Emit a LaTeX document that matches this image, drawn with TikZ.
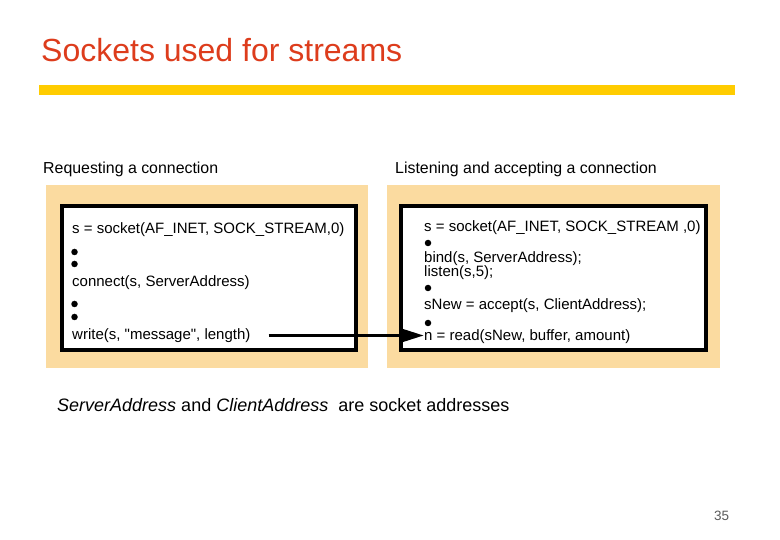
\documentclass[tikz,border=0pt]{standalone}
\usepackage{fontspec}
\setmainfont{Liberation Sans}
\usetikzlibrary{arrows.meta}
\definecolor{titlered}{RGB}{221,60,28}
\definecolor{baryellow}{RGB}{255,204,0}
\definecolor{tan}{RGB}{251,219,160}
\definecolor{pagegray}{RGB}{90,90,90}
\tikzset{
  code/.style={anchor=base west,inner sep=0pt,font=\fontsize{15}{16}\selectfont},
  lbl/.style={anchor=base west,inner sep=0pt,font=\fontsize{15.9}{18}\selectfont},
  dot/.style={circle,fill=black,inner sep=0pt,minimum size=6.5pt},
  panel/.style={fill=tan,draw=none},
  codebox/.style={fill=white,draw=black,line width=4pt},
  msg/.style={line width=3.5pt,-{Triangle[length=21pt,width=12pt]}},
}
\begin{document}
\begin{tikzpicture}[x=1pt,y=-1pt]
\useasboundingbox[fill=white] (0,0) rectangle (780,540);
% title and bar
\node[anchor=base west,inner sep=0pt,text=titlered,font=\fontsize{32}{36}\selectfont] (title) at (41,62) {Sockets used for streams};
\fill[baryellow] (39,85) rectangle (735,95);
% labels
\node[lbl] (lreq) at (43,174) {Requesting a connection};
\node[lbl] (llis) at (395,174) {Listening and accepting a connection};
% panels
\fill[panel] (46,185) rectangle (368,368);
\draw[codebox] (62,206) rectangle (356,350);
\fill[panel] (387,185) rectangle (720,368);
\draw[codebox] (401,206) rectangle (706,350);
% left code
\node[code] (c1) at (72,234) {s = socket(AF\_INET, SOCK\_STREAM,0)};
\node[dot] (b1) at (74.5,252) {};
\node[dot] (b2) at (74.5,264) {};
\node[code] (c2) at (72,287) {connect(s, ServerAddress)};
\node[dot] (b3) at (74.5,304) {};
\node[dot] (b4) at (74.5,317) {};
\node[code] (write) at (72,340) {write(s, \textquotedbl message\textquotedbl, length)};
% right code
\node[code] (s1) at (424,232) {s = socket(AF\_INET, SOCK\_STREAM ,0)};
\node[dot] (d1) at (428,243) {};
\node[code] (s2) at (424,263) {bind(s, ServerAddress);};
\node[code] (s3) at (424,277) {listen(s,5);};
\node[dot] (d2) at (428,288) {};
\node[code] (s4) at (424,310) {sNew = accept(s, ClientAddress);};
\node[dot] (d3) at (428,323) {};
\node[code] (read) at (424,341) {n = read(sNew, buffer, amount)};
% message arrow
\coordinate (mstart) at ([xshift=18pt,yshift=4.5pt]write.base east);
\draw[msg] (mstart) -- (mstart -| read.west);
% caption
\node[anchor=base west,inner sep=0pt,font=\fontsize{18}{20}\selectfont] (cap) at (57,411) {\textit{ServerAddress} and \textit{ClientAddress}\ \ are socket addresses};
% page number
\node[anchor=base west,inner sep=0pt,text=pagegray,font=\fontsize{13.5}{15}\selectfont] (pg) at (714,520) {35};
\end{tikzpicture}
\end{document}
